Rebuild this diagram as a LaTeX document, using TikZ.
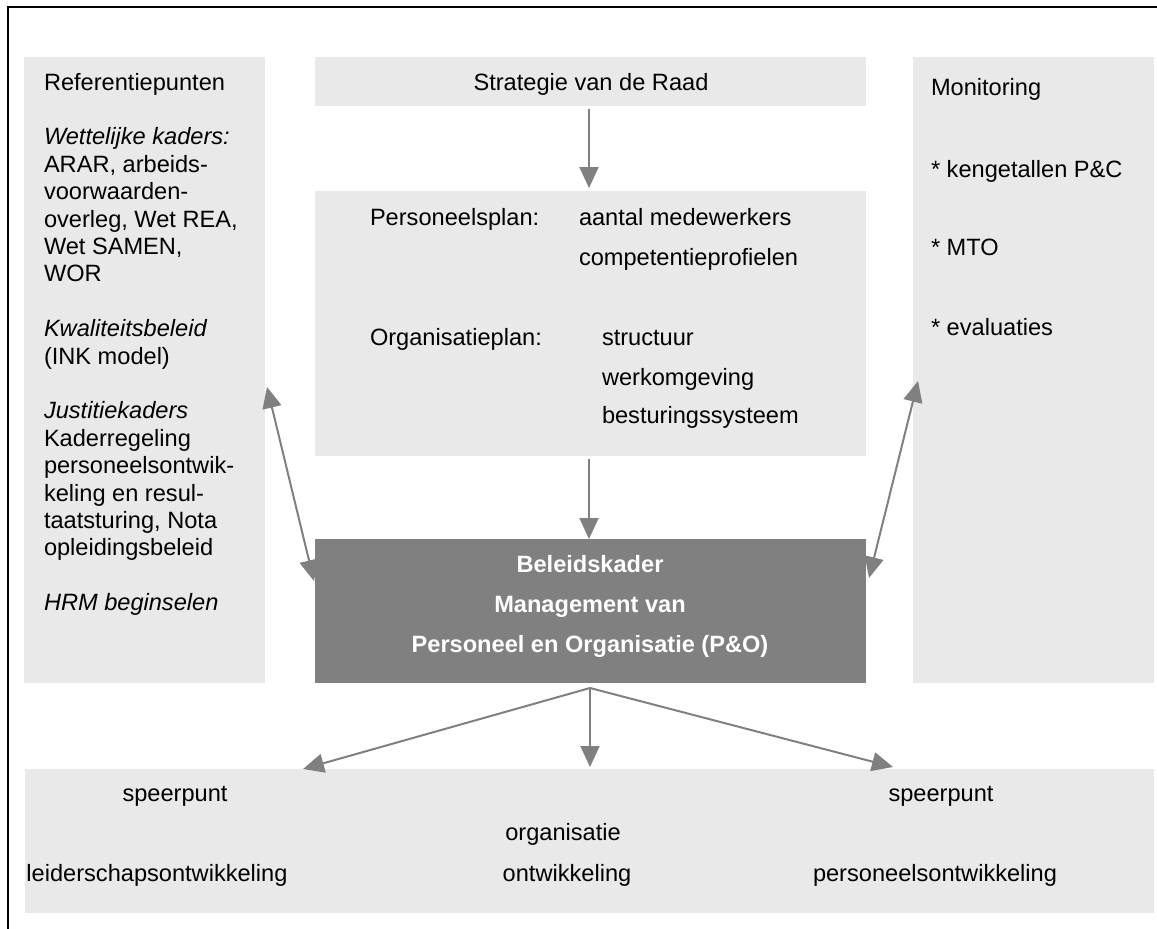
\documentclass[tikz,border=0pt]{standalone}
\usepackage{fontspec}
\setmainfont{Liberation Sans}
\usetikzlibrary{arrows.meta}
\definecolor{boxgray}{RGB}{233,233,233}
\definecolor{darkbox}{RGB}{128,128,128}
\definecolor{arrgray}{RGB}{128,128,128}
\begin{document}
\begin{tikzpicture}[x=1pt,y=-1pt,
  box/.style={rectangle,fill=boxgray,draw=none,inner sep=0pt,outer sep=0pt},
  txt/.style={inner sep=0pt,outer sep=0pt,font=\fontsize{23.6pt}{27.4pt}\selectfont,anchor=base west},
  ctxt/.style={txt,anchor=base},
  wtxt/.style={ctxt,text=white,font=\fontsize{23.6pt}{27.4pt}\selectfont\bfseries},
  arr/.style={draw=arrgray,line width=2pt,-{Triangle[length=21pt,width=19pt]}},
  darr/.style={draw=arrgray,line width=2pt,{Triangle[length=21pt,width=19pt]}-{Triangle[length=21pt,width=19pt]}}]
\useasboundingbox (0,0) rectangle (1157,929);
% frame
\draw[line width=2pt,black] (8,929) -- (8,7) -- (1157,7);
% boxes
\node[box,minimum width=241pt,minimum height=626pt] (ref) at (144.5,370) {};
\node[box,minimum width=551pt,minimum height=49pt] (strat) at (590.5,81.5) {};
\node[box,minimum width=551pt,minimum height=265pt] (plan) at (590.5,323.5) {};
\node[box,fill=darkbox,minimum width=551pt,minimum height=144pt] (dark) at (590.5,611) {};
\node[box,minimum width=241pt,minimum height=626pt] (mon) at (1033.5,370) {};
\node[box,minimum width=1129pt,minimum height=144pt] (bot) at (589.5,841) {};
% left texts (line pitch 27.4)
\node[txt] (r1) at (44,90) {Referentiepunten};
\node[txt] (r2) at (44,144.8) {\itshape Wettelijke kaders:};
\node[txt] (r3) at (44,172.2) {ARAR, arbeids-};
\node[txt] (r4) at (44,199.6) {voorwaarden-};
\node[txt] (r5) at (44,227.0) {overleg, Wet REA,};
\node[txt] (r6) at (44,254.4) {Wet SAMEN,};
\node[txt] (r7) at (44,281.8) {WOR};
\node[txt] (r8) at (44,336.6) {\itshape Kwaliteitsbeleid};
\node[txt] (r9) at (44,364.0) {(INK model)};
\node[txt] (r10) at (44,418.8) {\itshape Justitiekaders};
\node[txt] (r11) at (44,446.2) {Kaderregeling};
\node[txt] (r12) at (44,473.6) {personeelsontwik-};
\node[txt] (r13) at (44,501.0) {keling en resul-};
\node[txt] (r14) at (44,528.4) {taatsturing, Nota};
\node[txt] (r15) at (44,555.8) {opleidingsbeleid};
\node[txt] (r16) at (44,610.6) {\itshape HRM beginselen};
% top center
\node[ctxt] (s1) at (591,90) {Strategie van de Raad};
% plan texts
\node[txt] (p1) at (370,225.5) {Personeelsplan:};
\node[txt] (p2) at (579,225.5) {aantal medewerkers};
\node[txt] (p3) at (579,265.5) {competentieprofielen};
\node[txt] (p4) at (370,345.5) {Organisatieplan:};
\node[txt] (p5) at (602,345.5) {structuur};
\node[txt] (p6) at (602,385.5) {werkomgeving};
\node[txt] (p7) at (602,423.5) {besturingssysteem};
% dark box
\node[wtxt] (d1) at (590,572) {Beleidskader};
\node[wtxt] (d2) at (590,612) {Management van};
\node[wtxt] (d3) at (590,652) {Personeel en Organisatie (P\&O)};
% monitoring
\node[txt] (m1) at (931,95) {Monitoring};
\node[txt] (m2) at (931,177) {* kengetallen P\&C};
\node[txt] (m3) at (931,255) {* MTO};
\node[txt] (m4) at (931,335) {* evaluaties};
% bottom
\node[ctxt] (b1) at (175,801) {speerpunt};
\node[ctxt] (b2) at (157,881) {leiderschapsontwikkeling};
\node[ctxt] (b3) at (563,840) {organisatie};
\node[ctxt] (b4) at (567,881) {ontwikkeling};
\node[ctxt] (b5) at (941,801) {speerpunt};
\node[ctxt] (b6) at (935,881) {personeelsontwikkeling};
% connector coordinates
\coordinate (la1) at (267,387);
\coordinate (la2) at (314,581);
\coordinate (ra1) at (918,381);
\coordinate (ra2) at (869,578);
\coordinate (src) at (590,688);
\coordinate (t1) at (303,769);
\coordinate (t2) at (590,767);
\coordinate (t3) at (893,767);
% arrows
\draw[arr] ([yshift=-3pt]strat.south -| 589,0) -- ([yshift=3pt]plan.north -| 589,0);
\draw[arr] ([yshift=-3pt]plan.south -| 589,0) -- (dark.north -| 589,0);
\draw[darr] (la1) -- (la2);
\draw[darr] (ra1) -- (ra2);
\draw[arr] (src) -- (t1);
\draw[arr] (src) -- (t2);
\draw[arr] (src) -- (t3);
\end{tikzpicture}
\end{document}
